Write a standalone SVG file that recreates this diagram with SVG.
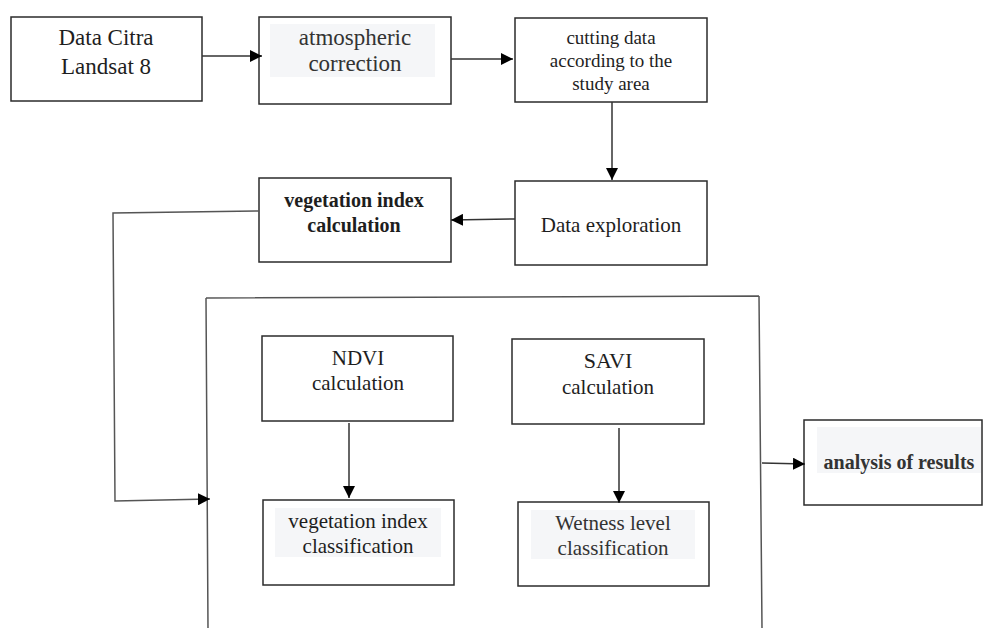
<svg xmlns="http://www.w3.org/2000/svg" width="986" height="628" viewBox="0 0 986 628">
<defs>
<style>
.box{fill:#fff;stroke:#2b2b2b;stroke-width:1.5}
.hl{fill:#f5f6f8;stroke:none}
.t{font-family:"Liberation Serif","Times New Roman",serif;fill:#1e1e1e;text-anchor:middle}
.g{fill:#333}
.b{font-weight:bold}
.c{fill:none;stroke:#333;stroke-width:1.5}
.f{fill:none;stroke:#555;stroke-width:1.5}
</style>
<marker id="ah" markerUnits="userSpaceOnUse" markerWidth="12" markerHeight="12" refX="12" refY="6" orient="auto">
<path d="M0,0 L12,6 L0,12 Z" fill="#000"/>
</marker>
</defs>
<rect width="986" height="628" fill="#fff"/>

<g id="frame">
<path class="f" d="M206,298 L759,296 M206,298 L208,628 M759,296 L762,628"/>
</g>

<g id="n1">
<rect class="box" x="11" y="17" width="191" height="84"/>
<text class="t" x="106" y="45" font-size="23">Data Citra</text>
<text class="t" x="106" y="74" font-size="23">Landsat 8</text>
</g>

<g id="n2">
<rect class="box" x="259" y="17" width="192" height="87"/>
<rect class="hl" x="270" y="24" width="165" height="53"/>
<text class="t g" x="355" y="45" font-size="23">atmospheric</text>
<text class="t g" x="355" y="71" font-size="23">correction</text>
</g>

<g id="n3">
<rect class="box" x="515" y="18" width="192" height="84"/>
<text class="t" x="611" y="44" font-size="19">cutting data</text>
<text class="t" x="611" y="67" font-size="19">according to the</text>
<text class="t" x="611" y="90" font-size="19">study area</text>
</g>

<g id="n4">
<rect class="box" x="515" y="181" width="192" height="84"/>
<text class="t" x="611" y="232" font-size="21">Data exploration</text>
</g>

<g id="n5">
<rect class="box" x="259" y="178" width="192" height="84"/>
<text class="t b" x="354" y="207" font-size="20">vegetation index</text>
<text class="t b" x="354" y="232" font-size="20">calculation</text>
</g>

<g id="n6">
<rect class="box" x="262" y="336" width="191" height="85"/>
<text class="t" x="358" y="365" font-size="21">NDVI</text>
<text class="t" x="358" y="390" font-size="21">calculation</text>
</g>

<g id="n7">
<rect class="box" x="512" y="339" width="192" height="85"/>
<text class="t" x="608" y="368" font-size="22">SAVI</text>
<text class="t" x="608" y="394" font-size="21">calculation</text>
</g>

<g id="n8">
<rect class="box" x="263" y="500" width="191" height="85"/>
<rect class="hl" x="275" y="508" width="166" height="49"/>
<text class="t" x="358" y="528" font-size="21">vegetation index</text>
<text class="t" x="358" y="553" font-size="21">classification</text>
</g>

<g id="n9">
<rect class="box" x="518" y="502" width="191" height="84"/>
<rect class="hl" x="531" y="510" width="164" height="49"/>
<text class="t g" x="613" y="530" font-size="21">Wetness level</text>
<text class="t g" x="613" y="555" font-size="21">classification</text>
</g>

<g id="n10">
<rect class="box" x="804" y="420" width="178" height="85"/>
<rect class="hl" x="817" y="427" width="164" height="46"/>
<text class="t b g" x="899" y="469" font-size="20">analysis of results</text>
</g>

<g id="connectors">
<path class="c" d="M202,56 L262,56" marker-end="url(#ah)"/>
<path class="c" d="M451,59 L513,59" marker-end="url(#ah)"/>
<path class="c" d="M612,102 L612,180" marker-end="url(#ah)"/>
<path class="c" d="M515,219 L451,220" marker-end="url(#ah)"/>
<path class="f" d="M259,211 L113,213 L115,501 L210,499" marker-end="url(#ah)"/>
<path class="c" d="M349,423 L349,498" marker-end="url(#ah)"/>
<path class="c" d="M619,428 L619,503" marker-end="url(#ah)"/>
<path class="c" d="M762,463 L805,464" marker-end="url(#ah)"/>
</g>
</svg>
